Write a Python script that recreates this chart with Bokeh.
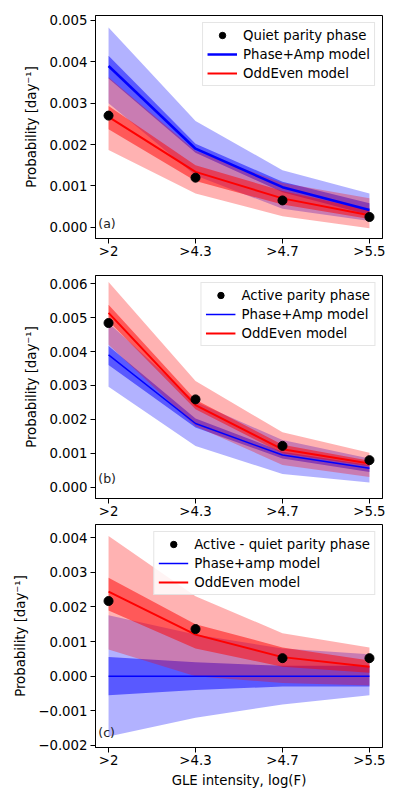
from bokeh.plotting import figure
from bokeh.layouts import column
from bokeh.models import Range1d, FixedTicker, Legend, LegendItem, Label
from bokeh.embed import file_html
from bokeh.resources import INLINE

categories = [">2", ">4.3", ">4.7", ">5.5"]
xs = [0, 1, 2, 3]

# Panel (a): quiet parity phase
quiet_obs = [0.0027, 0.0012, 0.00065, 0.00025]
quiet_pa_mid = [0.0039, 0.0019, 0.00097, 0.00042]
quiet_pa_in_lo = [0.0036, 0.0018, 0.00085, 0.0003]
quiet_pa_in_hi = [0.00415, 0.00202, 0.0011, 0.00058]
quiet_pa_out_lo = [0.0030, 0.00125, 0.00045, 0.00015]
quiet_pa_out_hi = [0.00483, 0.00257, 0.00138, 0.00082]
quiet_oe_mid = [0.00267, 0.00134, 0.0007, 0.00029]
quiet_oe_in_lo = [0.00237, 0.00112, 0.00055, 0.0002]
quiet_oe_in_hi = [0.00293, 0.0015, 0.00088, 0.00042]
quiet_oe_out_lo = [0.00187, 0.00082, 0.00027, -0.00002]
quiet_oe_out_hi = [0.00363, 0.00185, 0.00107, 0.0007]

# Panel (b): active parity phase
active_obs = [0.00484, 0.00259, 0.00122, 0.0008]
active_pa_mid = [0.0039, 0.00188, 0.00095, 0.00056]
active_pa_in_lo = [0.0036, 0.00176, 0.00085, 0.00045]
active_pa_in_hi = [0.00416, 0.00203, 0.00105, 0.00066]
active_pa_out_lo = [0.00296, 0.00122, 0.00039, 0.00014]
active_pa_out_hi = [0.00484, 0.00252, 0.00139, 0.00085]
active_oe_mid = [0.00514, 0.00242, 0.00112, 0.0007]
active_oe_in_lo = [0.0049, 0.0023, 0.001, 0.00062]
active_oe_in_hi = [0.00538, 0.00258, 0.00125, 0.00078]
active_oe_out_lo = [0.0042, 0.0018, 0.00066, 0.0003]
active_oe_out_hi = [0.00605, 0.00313, 0.00162, 0.00102]

# Panel (c): active - quiet
diff_obs = [0.00217, 0.00136, 0.00052, 0.00052]
diff_pa_mid = [0.0, 0.0, 0.0, 0.0]
diff_pa_in_lo = [-0.00055, -0.0004, -0.0003, -0.0003]
diff_pa_in_hi = [0.00055, 0.0004, 0.0003, 0.0003]
diff_pa_out_lo = [-0.00174, -0.0012, -0.00082, -0.00055]
diff_pa_out_hi = [0.00176, 0.0012, 0.0008, 0.00063]
diff_oe_mid = [0.00244, 0.0012, 0.00055, 0.00027]
diff_oe_in_lo = [0.0019, 0.0008, 0.00027, 0.0001]
diff_oe_in_hi = [0.00284, 0.0015, 0.00083, 0.00045]
diff_oe_out_lo = [0.00077, 0.0, -0.0002, -0.00027]
diff_oe_out_hi = [0.00405, 0.00231, 0.00124, 0.00083]

yticks_a = [0.0, 0.001, 0.002, 0.003, 0.004, 0.005]
yticks_b = [0.0, 0.001, 0.002, 0.003, 0.004, 0.005, 0.006]
yticks_c = [-0.002, -0.001, 0.0, 0.001, 0.002, 0.003, 0.004]

FONT = "DejaVu Sans"
FS = "13.3px"


def fmt(v):
    s = "%.3f" % abs(v)
    return ("\u2212" + s) if v < -1e-12 else s


def panel(obs, pa, oe, yr, yticks, labels, tag, tag_y, pa_width,
          top, bottom, xlabel=None):
    p = figure(frame_width=287, frame_height=223, output_backend="svg",
               toolbar_location=None, x_range=Range1d(-0.15, 3.15),
               y_range=Range1d(*yr), min_border_left=95, min_border_right=12,
               min_border_top=top, min_border_bottom=bottom)
    p.xgrid.visible = False
    p.ygrid.visible = False
    p.outline_line_color = "black"
    p.outline_line_alpha = 1
    p.outline_line_width = 1
    p.background_fill_color = "white"
    p.border_fill_color = "white"

    p.xaxis.ticker = FixedTicker(ticks=xs)
    p.xaxis.major_label_overrides = {x: c for x, c in zip(xs, categories)}
    p.yaxis.ticker = FixedTicker(ticks=yticks)
    p.yaxis.major_label_overrides = {t: fmt(t) for t in yticks}
    for ax in (p.xaxis[0], p.yaxis[0]):
        ax.axis_line_color = "black"
        ax.major_tick_line_color = "black"
        ax.major_tick_out = 5
        ax.major_tick_in = 0
        ax.minor_tick_line_color = None
        ax.major_label_text_font = FONT
        ax.major_label_text_font_size = FS
        ax.major_label_text_color = "black"
        ax.axis_label_text_font = FONT
        ax.axis_label_text_font_size = FS
        ax.axis_label_text_font_style = "normal"
        ax.axis_label_text_color = "black"
    p.xaxis.major_label_standoff = 0
    p.yaxis.major_label_standoff = 3
    p.yaxis.axis_label = "Probability [day\u207b\u00b9]"
    p.yaxis.axis_label_standoff = 7
    if xlabel:
        p.xaxis.axis_label = xlabel
        p.xaxis.axis_label_standoff = 2

    pa_mid, pa_in_lo, pa_in_hi, pa_out_lo, pa_out_hi = pa
    oe_mid, oe_in_lo, oe_in_hi, oe_out_lo, oe_out_hi = oe

    p.varea(x=xs, y1=pa_out_lo, y2=pa_out_hi, fill_color="blue", fill_alpha=0.3)
    p.varea(x=xs, y1=pa_in_lo, y2=pa_in_hi, fill_color="blue", fill_alpha=0.5)
    p.varea(x=xs, y1=oe_out_lo, y2=oe_out_hi, fill_color="red", fill_alpha=0.3)
    p.varea(x=xs, y1=oe_in_lo, y2=oe_in_hi, fill_color="red", fill_alpha=0.5)
    r_pa = p.line(x=xs, y=pa_mid, line_color="blue", line_width=pa_width)
    r_oe = p.line(x=xs, y=oe_mid, line_color="red", line_width=2)
    r_obs = p.scatter(x=xs, y=obs, size=9, fill_color="black", line_color="black")

    legend = Legend(items=[LegendItem(label=labels[0], renderers=[r_obs]),
                           LegendItem(label=labels[1], renderers=[r_pa]),
                           LegendItem(label=labels[2], renderers=[r_oe])],
                    location="top_right", margin=7, padding=4, spacing=3,
                    label_height=16, glyph_height=16, glyph_width=30,
                    label_standoff=6, label_text_font=FONT,
                    label_text_font_size=FS, label_text_color="black",
                    border_line_color="#cccccc", border_line_width=1,
                    background_fill_color="white", background_fill_alpha=0.85)
    p.add_layout(legend)

    p.add_layout(Label(x=-0.118, y=tag_y, text=tag, text_font=FONT,
                       text_font_size="12.5px", text_color="#222222",
                       text_baseline="middle", text_align="left"))
    return p


p1 = panel(quiet_obs,
           (quiet_pa_mid, quiet_pa_in_lo, quiet_pa_in_hi, quiet_pa_out_lo, quiet_pa_out_hi),
           (quiet_oe_mid, quiet_oe_in_lo, quiet_oe_in_hi, quiet_oe_out_lo, quiet_oe_out_hi),
           (-0.00027, 0.00512), yticks_a,
           ["Quiet parity phase", "Phase+Amp model", "OddEven model"],
           "(a)", 0.0001, 2.5, 15, 25)
p2 = panel(active_obs,
           (active_pa_mid, active_pa_in_lo, active_pa_in_hi, active_pa_out_lo, active_pa_out_hi),
           (active_oe_mid, active_oe_in_lo, active_oe_in_hi, active_oe_out_lo, active_oe_out_hi),
           (-0.00033, 0.00624), yticks_b,
           ["Active parity phase", "Phase+Amp model", "OddEven model"],
           "(b)", 0.00026, 1.5, 12, 22)
p3 = panel(diff_obs,
           (diff_pa_mid, diff_pa_in_lo, diff_pa_in_hi, diff_pa_out_lo, diff_pa_out_hi),
           (diff_oe_mid, diff_oe_in_lo, diff_oe_in_hi, diff_oe_out_lo, diff_oe_out_hi),
           (-0.00206, 0.00438), yticks_c,
           ["Active - quiet parity phase", "Phase+amp model", "OddEven model"],
           "(c)", -0.00162, 1.5, 3, 44, xlabel="GLE intensity, log(F)")

layout = column(p1, p2, p3, spacing=0)
open("out.html", "w").write(file_html(layout, INLINE))
